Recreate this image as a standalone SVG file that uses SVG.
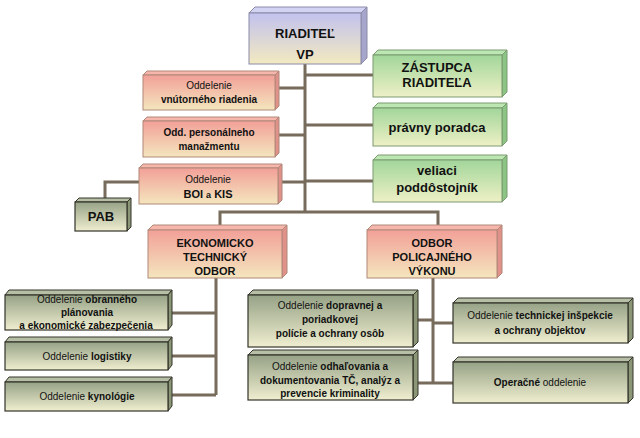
<svg xmlns="http://www.w3.org/2000/svg" width="640" height="438" viewBox="0 0 640 438">
<defs>
<linearGradient id="gLav" x1="0" y1="0" x2="0" y2="1"><stop offset="0" stop-color="#c2c2ee"/><stop offset="1" stop-color="#f3e9c0"/></linearGradient>
<linearGradient id="gPink" x1="0" y1="0" x2="0" y2="1"><stop offset="0" stop-color="#f2a098"/><stop offset="1" stop-color="#f4e6be"/></linearGradient>
<linearGradient id="gGreen" x1="0" y1="0" x2="0" y2="1"><stop offset="0" stop-color="#a2d69a"/><stop offset="1" stop-color="#eef0c6"/></linearGradient>
<linearGradient id="gOlive" x1="0" y1="0" x2="0" y2="1"><stop offset="0" stop-color="#96a286"/><stop offset="1" stop-color="#f0eed0"/></linearGradient>
</defs>
<style>
.lav .f{fill:url(#gLav);stroke:#8a8aa8;stroke-width:1}
.lav .t{fill:#d2d2f2;stroke:#8a8aa8;stroke-width:1}
.lav .r{fill:#a6a6cc;stroke:#8a8aa8;stroke-width:1}
.pink .f{fill:url(#gPink);stroke:#b08878;stroke-width:1}
.pink .t{fill:#f6b6ac;stroke:#b08878;stroke-width:1}
.pink .r{fill:#e0928a;stroke:#b08878;stroke-width:1}
.green .f{fill:url(#gGreen);stroke:#7a9a70;stroke-width:1}
.green .t{fill:#bce6b2;stroke:#7a9a70;stroke-width:1}
.green .r{fill:#8cc484;stroke:#7a9a70;stroke-width:1}
.olive .f{fill:url(#gOlive);stroke:#34342a;stroke-width:1.2}
.olive .t{fill:#b6bea6;stroke:#34342a;stroke-width:1}
.olive .r{fill:#8a9676;stroke:#34342a;stroke-width:1}
text{font-family:"Liberation Sans",Arial,sans-serif;text-anchor:middle;fill:#111}
.b{font-weight:bold}
.big{font-size:13px;font-weight:bold}
.mid{font-size:11px;font-weight:bold}
.sm{font-size:10px}
#connectors path{fill:none;stroke:#776b5b;stroke-width:3}
</style>
<g id="connectors">
<path d="M305 64V212"/>
<path d="M305 75H373M305 125H373M305 181H373"/>
<path d="M275 88H305M275 135H305M278 182H305"/>
<path d="M139 182H105V200"/>
<path d="M220 226V212H438V226"/>
<path d="M216 278V395M168 313H216M168 356H216M168 395H216"/>
<path d="M433 278V383M413 320H433M433 323H453M413 383H453"/>
</g>
<g id="riaditel" class="lav">
<polygon class="t" points="249,13 255,7 367,7 361,13"/>
<polygon class="r" points="361,13 367,7 367,58 361,64"/>
<rect class="f" x="249" y="13" width="112" height="51"/>
<text class="big" x="305" y="38">RIADITEĽ</text>
<text class="big" x="305" y="59">VP</text>
</g>
<g id="zastupca" class="green">
<polygon class="t" points="373,55 378,50 507,50 502,55"/>
<polygon class="r" points="502,55 507,50 507,92 502,97"/>
<rect class="f" x="373" y="55" width="129" height="42"/>
<text class="big" x="437" y="72">ZÁSTUPCA</text>
<text class="big" x="437" y="87">RIADITEĽA</text>
</g>
<g id="pravny" class="green">
<polygon class="t" points="373,108 378,103 507,103 502,108"/>
<polygon class="r" points="502,108 507,103 507,141 502,146"/>
<rect class="f" x="373" y="108" width="129" height="38"/>
<text class="big" x="437" y="132">právny poradca</text>
</g>
<g id="veliaci" class="green">
<polygon class="t" points="373,160 378,155 507,155 502,160"/>
<polygon class="r" points="502,160 507,155 507,197 502,202"/>
<rect class="f" x="373" y="160" width="129" height="42"/>
<text class="big" x="437" y="175">veliaci</text>
<text class="big" x="437" y="192">poddôstojník</text>
</g>
<g id="vnutorneho" class="pink">
<polygon class="t" points="143,75 147,71 279,71 275,75"/>
<polygon class="r" points="275,75 279,71 279,106 275,110"/>
<rect class="f" x="143" y="75" width="132" height="35"/>
<text class="sm" x="209" y="89">Oddelenie</text>
<text class="sm b" x="209" y="103">vnútorného riadenia</text>
</g>
<g id="personalneho" class="pink">
<polygon class="t" points="143,121 147,117 279,117 275,121"/>
<polygon class="r" points="275,121 279,117 279,153 275,157"/>
<rect class="f" x="143" y="121" width="132" height="36"/>
<text class="sm b" x="209" y="136">Odd. personálneho</text>
<text class="sm b" x="209" y="150">manažmentu</text>
</g>
<g id="boi" class="pink">
<polygon class="t" points="139,168 143,164 282,164 278,168"/>
<polygon class="r" points="278,168 282,164 282,200 278,204"/>
<rect class="f" x="139" y="168" width="139" height="36"/>
<text class="sm" x="208" y="183">Oddelenie</text>
<text class="mid" x="208" y="198">BOI <tspan font-size="9">a</tspan> KIS</text>
</g>
<g id="pab" class="olive">
<polygon class="t" points="75,202 79,198 131,198 127,202"/>
<polygon class="r" points="127,202 131,198 131,227 127,231"/>
<rect class="f" x="75" y="202" width="52" height="29"/>
<text class="big" x="101" y="221">PAB</text>
</g>
<g id="ekonomicko" class="pink">
<polygon class="t" points="148,230 153,225 287,225 282,230"/>
<polygon class="r" points="282,230 287,225 287,273 282,278"/>
<rect class="f" x="148" y="230" width="134" height="48"/>
<text class="mid" x="215" y="247">EKONOMICKO</text>
<text class="mid" x="215" y="261">TECHNICKÝ</text>
<text class="mid" x="215" y="275">ODBOR</text>
</g>
<g id="odbor" class="pink">
<polygon class="t" points="367,230 372,225 502,225 497,230"/>
<polygon class="r" points="497,230 502,225 502,273 497,278"/>
<rect class="f" x="367" y="230" width="130" height="48"/>
<text class="mid" x="432" y="247">ODBOR</text>
<text class="mid" x="432" y="261">POLICAJNÉHO</text>
<text class="mid" x="432" y="275">VÝKONU</text>
</g>
<g id="obranneho" class="olive">
<polygon class="t" points="5,295 9,290 172,290 168,295"/>
<polygon class="r" points="168,295 172,290 172,325 168,330"/>
<rect class="f" x="5" y="295" width="163" height="35"/>
<text class="sm" x="87" y="303"><tspan>Oddelenie </tspan><tspan class="b">obranného</tspan></text>
<text class="sm b" x="87" y="316">plánovania</text>
<text class="sm b" x="86" y="329">a ekonomické zabezpečenia</text>
</g>
<g id="logistiky" class="olive">
<polygon class="t" points="5,342 9,337 172,337 168,342"/>
<polygon class="r" points="168,342 172,337 172,365 168,370"/>
<rect class="f" x="5" y="342" width="163" height="28"/>
<text class="sm" x="87" y="360"><tspan>Oddelenie </tspan><tspan class="b">logistiky</tspan></text>
</g>
<g id="kynologie" class="olive">
<polygon class="t" points="5,382 9,377 172,377 168,382"/>
<polygon class="r" points="168,382 172,377 172,406 168,411"/>
<rect class="f" x="5" y="382" width="163" height="29"/>
<text class="sm" x="87" y="400"><tspan>Oddelenie </tspan><tspan class="b">kynológie</tspan></text>
</g>
<g id="dopravnej" class="olive">
<polygon class="t" points="248,295 253,290 418,290 413,295"/>
<polygon class="r" points="413,295 418,290 418,342 413,347"/>
<rect class="f" x="248" y="295" width="165" height="52"/>
<text class="sm" x="330" y="309"><tspan>Oddelenie </tspan><tspan class="b">dopravnej a</tspan></text>
<text class="sm b" x="330" y="323">poriadkovej</text>
<text class="sm b" x="330" y="337">polície a ochrany osôb</text>
</g>
<g id="odhalovania" class="olive">
<polygon class="t" points="248,355 253,350 418,350 413,355"/>
<polygon class="r" points="413,355 418,350 418,395 413,400"/>
<rect class="f" x="248" y="355" width="165" height="45"/>
<text class="sm" x="330" y="370"><tspan>Oddelenie </tspan><tspan class="b">odhaľovania a</tspan></text>
<text class="sm b" x="330" y="384">dokumentovania TČ, analýz a</text>
<text class="sm b" x="330" y="397">prevencie kriminality</text>
</g>
<g id="technickej" class="olive">
<polygon class="t" points="453,303 458,298 633,298 628,303"/>
<polygon class="r" points="628,303 633,298 633,338 628,343"/>
<rect class="f" x="453" y="303" width="175" height="40"/>
<text class="sm" x="540" y="319"><tspan>Oddelenie </tspan><tspan class="b">technickej inšpekcie</tspan></text>
<text class="sm b" x="540" y="334">a ochrany objektov</text>
</g>
<g id="operacne" class="olive">
<polygon class="t" points="453,362 458,357 633,357 628,362"/>
<polygon class="r" points="628,362 633,357 633,398 628,403"/>
<rect class="f" x="453" y="362" width="175" height="41"/>
<text class="sm" x="540" y="386"><tspan class="b">Operačné</tspan><tspan> oddelenie</tspan></text>
</g>
</svg>
